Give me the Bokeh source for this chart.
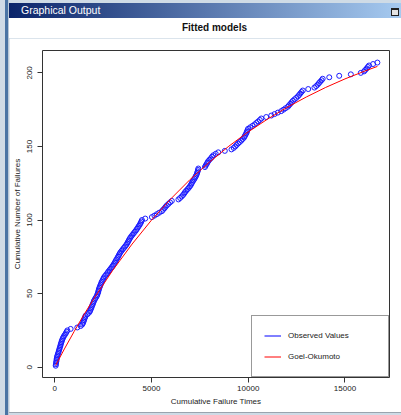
from bokeh.plotting import figure
from bokeh.models import Range1d, FixedTicker, Div
from bokeh.layouts import column, row
from bokeh.embed import file_html
from bokeh.resources import INLINE

# Observed cumulative failure times (x) and cumulative number of failures (y)
failure_times = [
    50, 60, 70, 85, 95, 105, 120, 140, 165, 190,
    210, 235, 255, 280, 300, 320, 345, 370, 396, 430,
    470, 520, 570, 610, 653, 823, 1167, 1340, 1420, 1460,
    1490, 1511, 1540, 1570, 1593, 1690, 1768, 1820, 1850, 1880,
    1910, 1938, 1970, 2000, 2025, 2070, 2110, 2160, 2195, 2220,
    2245, 2265, 2282, 2310, 2340, 2370, 2400, 2430, 2470, 2510,
    2540, 2600, 2660, 2720, 2770, 2830, 2890, 2950, 3000, 3053,
    3100, 3140, 3180, 3230, 3270, 3310, 3350, 3392, 3450, 3510,
    3570, 3630, 3690, 3737, 3780, 3820, 3860, 3906, 3960, 4020,
    4080, 4140, 4200, 4251, 4300, 4350, 4400, 4440, 4475, 4508,
    4677, 5022, 5150, 5279, 5400, 5536, 5600, 5670, 5730, 5793,
    5880, 5960, 6050, 6393, 6480, 6560, 6630, 6690, 6735, 6800,
    6870, 6930, 6990, 7040, 7078, 7120, 7170, 7220, 7260, 7300,
    7335, 7360, 7385, 7405, 7421, 7763, 7800, 7850, 7890, 7935,
    8000, 8070, 8130, 8193, 8320, 8450, 8790, 9134, 9250, 9330,
    9400, 9478, 9560, 9640, 9710, 9780, 9820, 9860, 9900, 9930,
    9960, 9992, 10100, 10220, 10331, 10420, 10510, 10600, 10676, 10930,
    11190, 11360, 11530, 11704, 11820, 11930, 12048, 12110, 12180, 12240,
    12305, 12390, 12480, 12562, 12630, 12690, 12750, 12819, 13100, 13420,
    13510, 13590, 13650, 13720, 13790, 13847, 14187, 14701, 15302, 15816,
    15985, 16050, 16120, 16180, 16242, 16450, 16674,
]
failure_counts = [
    1, 2, 3, 4, 5, 6, 7, 8, 9, 10, 11, 12, 13, 14, 15, 16, 17, 18, 19, 20,
    21, 22, 23, 24, 25, 26, 27, 28, 29, 30, 31, 32, 33, 34, 35, 36, 37, 38, 39, 40,
    41, 42, 43, 44, 45, 46, 47, 48, 49, 50, 51, 52, 53, 54, 55, 56, 57, 58, 59, 60,
    61, 62, 63, 64, 65, 66, 67, 68, 69, 70, 71, 72, 73, 74, 75, 76, 77, 78, 79, 80,
    81, 82, 83, 84, 85, 86, 87, 88, 89, 90, 91, 92, 93, 94, 95, 96, 97, 98, 99, 100,
    101, 102, 103, 104, 105, 106, 107, 108, 109, 110, 111, 112, 113, 114, 115, 116, 117, 118, 119, 120,
    121, 122, 123, 124, 125, 126, 127, 128, 129, 130, 131, 132, 133, 134, 135, 136, 137, 138, 139, 140,
    141, 142, 143, 144, 145, 146, 147, 148, 149, 150, 151, 152, 153, 154, 155, 156, 157, 158, 159, 160,
    161, 162, 163, 164, 165, 166, 167, 168, 169, 170, 171, 172, 173, 174, 175, 176, 177, 178, 179, 180,
    181, 182, 183, 184, 185, 186, 187, 188, 189, 190, 191, 192, 193, 194, 195, 196, 197, 198, 199, 200,
    201, 202, 203, 204, 205, 206, 207,
]

# Fitted Goel-Okumoto mean value curve
go_times = [50, 500, 1000, 1500, 2000, 3000, 4000, 5000, 6000, 7000, 8000,
            9000, 10000, 11000, 12000, 13000, 14000, 15000, 16000, 16674]
go_values = [1.3, 12.4, 24.2, 35.5, 46.1, 65.9, 83.7, 99.9, 114.4, 127.6, 139.4,
             150.2, 159.9, 168.6, 176.5, 183.6, 190.1, 195.9, 201.1, 204.4]

x_ticks = [0, 5000, 10000, 15000]
y_ticks = [0, 50, 100, 150, 200]

FONT = "Liberation Sans"
FRAME_BG = "#cfdbe6"

# ---- window chrome ----
left_strip = Div(width=9, height=415, margin=0, styles={
    "background": "linear-gradient(to right, #cfdbe6 0px, #cfdbe6 5px, #4a74a4 5px, "
                  "#4a74a4 8px, #b8c8d8 8px, #b8c8d8 9px)"})
top_strip = Div(width=392, height=3, margin=0, styles={"background": FRAME_BG})
title_text = Div(text="Graphical Output", width=360, height=15, margin=(0, 0, 0, 12), styles={
    "color": "white",
    "font-family": "Liberation Sans, Arial, sans-serif",
    "font-size": "10.5px",
    "line-height": "15px",
    "white-space": "nowrap",
})
max_btn = Div(text="", width=8, height=8, margin=(5, 0, 0, 10), styles={
    "border": "1px solid #222222", "border-top": "2px solid #222222",
    "background": "#e4e4e4", "box-sizing": "border-box"})
titlebar = row(title_text, max_btn, width=392, height=15, margin=0, styles={
    "background": "linear-gradient(to right, #0a246a, #a6caf0)"})
bottom_strip = Div(width=392, height=3, margin=0, styles={
    "background": "linear-gradient(to bottom, #9aa4ae 0px, #9aa4ae 1px, #cfdbe6 1px)"})

# ---- plot title (centred over the plot frame) ----
plot_title = Div(
    text=('<div style="width:411px;text-align:center;font-family:Liberation Sans, Arial, sans-serif;'
          'font-weight:bold;font-size:10px;line-height:20px;color:#111111;">Fitted models</div>'),
    width=392, height=20, margin=0, styles={"background": "white", "overflow": "hidden"})

# ---- plot ----
p = figure(
    width=392, height=374,
    x_range=Range1d(-632, 17300), y_range=Range1d(-7, 215.2),
    output_backend="svg", toolbar_location=None,
    min_border_left=31, min_border_right=12, min_border_top=12, min_border_bottom=35,
    background_fill_color="white", border_fill_color="white", margin=0,
)
p.outline_line_color = "#333333"
p.outline_line_width = 1
p.grid.visible = False

for ax in (p.xaxis[0], p.yaxis[0]):
    ax.axis_line_color = None
    ax.major_tick_in = 0
    ax.major_tick_out = 5
    ax.major_tick_line_color = "#333333"
    ax.minor_tick_line_color = None
    ax.major_label_text_font = FONT
    ax.major_label_text_font_size = "8px"
    ax.major_label_text_color = "#222222"
    ax.axis_label_text_font = FONT
    ax.axis_label_text_font_size = "8px"
    ax.axis_label_text_font_style = "normal"
    ax.axis_label_text_color = "#222222"

p.xaxis.ticker = FixedTicker(ticks=x_ticks)
p.yaxis.ticker = FixedTicker(ticks=y_ticks)
p.xaxis.axis_label = "Cumulative Failure Times"
p.yaxis.axis_label = "Cumulative Number of Failures"
p.yaxis.major_label_orientation = "vertical"
p.xaxis.major_label_standoff = 3
p.yaxis.major_label_standoff = 5
p.xaxis.axis_label_standoff = 3
p.yaxis.axis_label_standoff = 3

# legend-only blue line for observed values (no visible data)
p.line(x=[float("nan")], y=[float("nan")], line_color="blue", line_width=1,
       legend_label="Observed Values")
p.scatter(x=failure_times, y=failure_counts, marker="circle", size=5,
          fill_color=None, line_color="#1a1aff", line_width=1)
p.line(x=go_times, y=go_values, line_color="red", line_width=1, legend_label="Goel-Okumoto")

lg = p.legend[0]
lg.location = "bottom_right"
lg.margin = 0
lg.padding = 12
lg.spacing = 6
lg.glyph_width = 17
lg.glyph_height = 15
lg.label_height = 15
lg.label_width = 88
lg.label_standoff = 7
lg.label_text_font = FONT
lg.label_text_font_size = "8px"
lg.label_text_color = "#222222"
lg.border_line_color = "#333333"
lg.border_line_width = 1
lg.background_fill_color = "white"
lg.background_fill_alpha = 1.0

content = column(top_strip, titlebar, plot_title, p, bottom_strip, spacing=0, margin=0)
layout = row(left_strip, content, spacing=0, margin=0,
             styles={"background": FRAME_BG})
open("out.html", "w").write(file_html(layout, INLINE))
